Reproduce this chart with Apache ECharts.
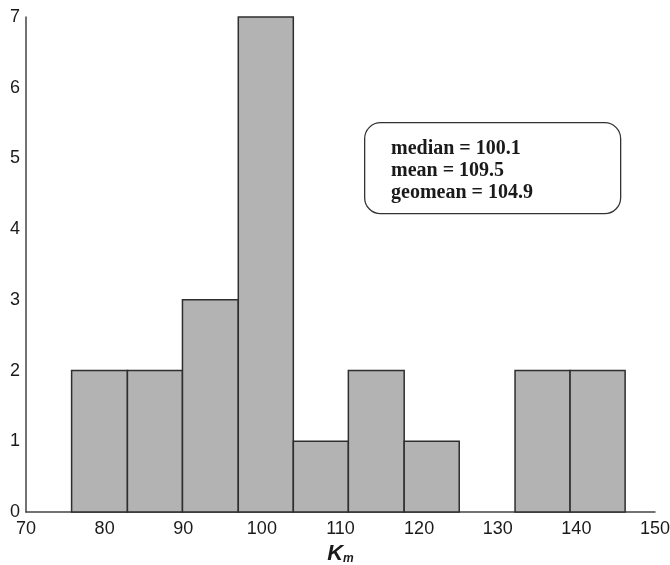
<!DOCTYPE html>
<html>
<head>
<meta charset="utf-8">
<script src="https://cdn.jsdelivr.net/npm/echarts@6/dist/echarts.min.js"></script>
<style>
  html, body { margin: 0; padding: 0; background: #fff; }
  #chart { width: 670px; height: 565px; }
</style>
</head>
<body>
<div id="chart"></div>
<script>
// bin edges of the histogram (Km values) and counts per bin
var binEdges = [75.8, 82.9, 89.9, 97.0, 104.0, 111.0, 118.1, 125.1, 132.2, 139.2, 146.2];
var counts = [2, 2, 3, 7, 1, 2, 1, 0, 2, 2];
var statLines = ['median = 100.1', 'mean = 109.5', 'geomean = 104.9'];

var chart = echarts.init(document.getElementById('chart'));

var binData = [];
for (var i = 0; i < counts.length; i++) {
  binData.push([binEdges[i], binEdges[i + 1], counts[i]]);
}

var labelFont = {
  color: '#1a1a1a',
  fontFamily: 'Liberation Sans, Arial, sans-serif',
  fontSize: 18
};

var option = {
  animation: false,
  grid: { left: 26, right: 15, top: 17, bottom: 53, outerBoundsMode: 'none', containLabel: false },
  xAxis: {
    type: 'value',
    min: 70,
    max: 150,
    interval: 10,
    axisLine: { show: true, lineStyle: { color: '#444', width: 1.5 } },
    axisTick: { show: false },
    splitLine: { show: false },
    axisLabel: Object.assign({ margin: 8 }, labelFont),
    name: '{k|K}{m|m}',
    nameLocation: 'middle',
    nameGap: 28,
    nameTextStyle: {
      verticalAlign: 'top',
      rich: {
        k: { fontFamily: 'Liberation Sans, Arial, sans-serif', fontSize: 22, fontWeight: 'bold', fontStyle: 'italic', color: '#1a1a1a', verticalAlign: 'top' },
        m: { fontFamily: 'Liberation Sans, Arial, sans-serif', fontSize: 12, fontWeight: 'bold', fontStyle: 'italic', color: '#1a1a1a', verticalAlign: 'bottom' }
      }
    }
  },
  yAxis: {
    type: 'value',
    min: 0,
    max: 7,
    interval: 1,
    axisLine: { show: true, lineStyle: { color: '#444', width: 1.5 } },
    axisTick: { show: false },
    splitLine: { show: false },
    axisLabel: Object.assign({ margin: 6 }, labelFont)
  },
  series: [{
    type: 'custom',
    data: binData,
    encode: { x: [0, 1], y: 2 },
    renderItem: function (params, api) {
      if (api.value(2) === 0) return null;
      var p0 = api.coord([api.value(0), 0]);
      var p1 = api.coord([api.value(1), api.value(2)]);
      return {
        type: 'rect',
        shape: { x: p0[0], y: p1[1], width: p1[0] - p0[0], height: p0[1] - p1[1] },
        style: { fill: '#b3b3b3', stroke: '#2e2e2e', lineWidth: 1.5 }
      };
    }
  }],
  graphic: [{
    type: 'rect',
    left: 364,
    top: 122,
    shape: { width: 256, height: 91, r: 16 },
    style: { fill: '#fff', stroke: '#333', lineWidth: 1.3 }
  }, {
    type: 'text',
    left: 391,
    top: 138,
    style: {
      text: statLines.join('\n'),
      font: 'bold 20px "Liberation Serif", "Times New Roman", serif',
      lineHeight: 22,
      fill: '#1a1a1a'
    }
  }]
};

chart.setOption(option);
</script>
</body>
</html>
